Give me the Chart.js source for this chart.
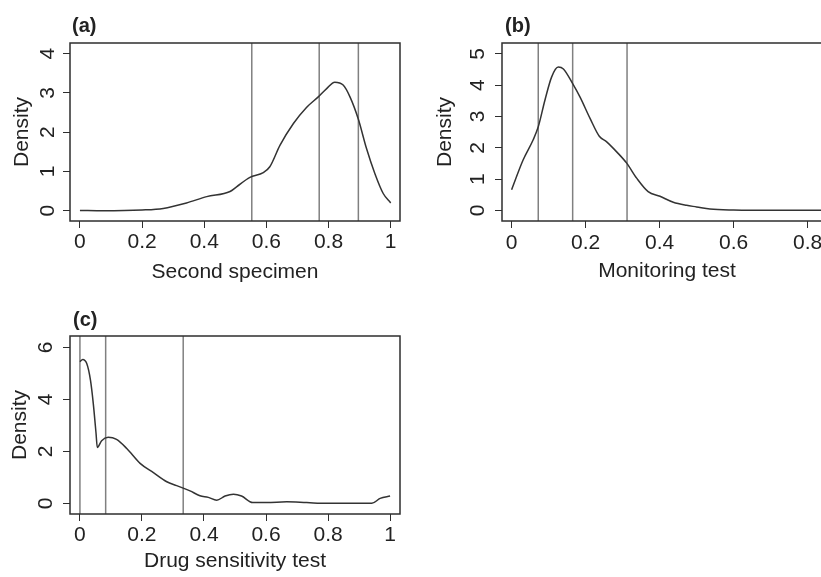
<!DOCTYPE html>
<html>
<head>
<meta charset="utf-8">
<script src="https://cdn.jsdelivr.net/npm/chart.js@4/dist/chart.umd.min.js"></script>
<style>
  html, body { margin: 0; padding: 0; background: #fff; }
  body { width: 821px; height: 577px; position: relative; overflow: hidden; }
  canvas { position: absolute; }
  #chartA { left: 0; top: 0; }
  #chartB { left: 432px; top: 0; }
  #chartC { left: 0; top: 293px; }
</style>
</head>
<body>
<canvas id="chartA" width="410" height="290"></canvas>
<canvas id="chartB" width="410" height="290"></canvas>
<canvas id="chartC" width="410" height="290"></canvas>
<script>
// (a) Second specimen
const aX = [0, 0.075, 0.2, 0.268, 0.343, 0.408, 0.483, 0.504, 0.547, 0.59, 0.611, 0.644, 0.687, 0.729, 0.767, 0.794, 0.82, 0.847, 0.869, 0.896, 0.922, 0.949, 0.976, 1.0];
const aDensity = [0.01, 0.0, 0.02, 0.06, 0.20, 0.36, 0.49, 0.61, 0.85, 0.97, 1.12, 1.67, 2.22, 2.63, 2.9, 3.11, 3.27, 3.20, 2.9, 2.33, 1.59, 0.95, 0.44, 0.20];
const aCutoffs = [0.553, 0.770, 0.896];
const aYTicks = [0, 1, 2, 3, 4];

// (b) Monitoring test
const bX = [0, 0.031, 0.058, 0.072, 0.09, 0.108, 0.126, 0.140, 0.165, 0.185, 0.212, 0.237, 0.257, 0.284, 0.311, 0.338, 0.369, 0.401, 0.437, 0.473, 0.5, 0.536, 0.6, 0.72, 0.84, 0.87];
const bDensity = [0.66, 1.61, 2.25, 2.67, 3.52, 4.26, 4.58, 4.52, 4.05, 3.62, 2.94, 2.37, 2.19, 1.87, 1.51, 1.03, 0.60, 0.45, 0.26, 0.16, 0.11, 0.04, 0.01, 0.0, 0.0, 0.0];
const bCutoffs = [0.072, 0.165, 0.312];
const bYTicks = [0, 1, 2, 3, 4, 5];

// (c) Drug sensitivity test
const cX = [0, 0.009, 0.022, 0.034, 0.043, 0.052, 0.056, 0.07, 0.091, 0.118, 0.151, 0.194, 0.237, 0.28, 0.312, 0.355, 0.387, 0.414, 0.441, 0.468, 0.495, 0.521, 0.557, 0.602, 0.667, 0.731, 0.796, 0.941, 0.968, 1.0];
const cDensity = [5.45, 5.54, 5.38, 4.74, 3.85, 2.69, 2.15, 2.41, 2.54, 2.46, 2.11, 1.54, 1.18, 0.83, 0.68, 0.48, 0.29, 0.23, 0.12, 0.28, 0.35, 0.28, 0.03, 0.03, 0.06, 0.03, 0.0, 0.0, 0.19, 0.28];
const cCutoffs = [0.0, 0.083, 0.333];
const cYTicks = [0, 2, 4, 6];

const xTicksFull = [0, 0.2, 0.4, 0.6, 0.8, 1];
const xTicksB = [0, 0.2, 0.4, 0.6, 0.8];

const FONT = "'Liberation Sans', Arial, Helvetica, sans-serif";
const INK = '#2e2e2e';

// box round the plot area plus the (a)/(b)/(c) tag
const framePlugin = {
  id: 'frame',
  afterDatasetsDraw(chart, args, opts) {
    const { ctx, chartArea: ca } = chart;
    ctx.save();
    ctx.strokeStyle = INK;
    ctx.lineWidth = 1.5;
    ctx.strokeRect(ca.left, ca.top, ca.right - ca.left, ca.bottom - ca.top);
    ctx.fillStyle = '#222';
    ctx.font = 'bold 20px ' + FONT;
    ctx.textBaseline = 'middle';
    ctx.textAlign = 'left';
    ctx.fillText(opts.tag, ca.left + opts.dx, opts.y);
    ctx.restore();
  }
};

function makePanel(id, p) {
  const datasets = [{
    data: p.xs.map((x, i) => ({ x: x, y: p.ys[i] })),
    borderColor: '#333',
    borderWidth: 1.5,
    pointRadius: 0,
    cubicInterpolationMode: 'monotone',
    fill: false
  }];
  p.cutoffs.forEach(c => {
    datasets.push({
      data: [{ x: c, y: p.yMin - 5 }, { x: c, y: p.yMax + 5 }],
      borderColor: '#808080',
      borderWidth: 1.5,
      pointRadius: 0,
      tension: 0,
      fill: false
    });
  });

  new Chart(document.getElementById(id), {
    type: 'line',
    data: { datasets: datasets },
    plugins: [framePlugin],
    options: {
      responsive: false,
      animation: false,
      events: [],
      layout: { padding: { top: 43, right: 10, left: 0, bottom: 0 } },
      plugins: {
        legend: { display: false },
        tooltip: { enabled: false },
        frame: { tag: p.tag, dx: p.tagDx, y: p.tagY }
      },
      scales: {
        x: {
          type: 'linear',
          min: p.xMin,
          max: p.xMax,
          afterFit: s => { s.height = 69; },
          afterBuildTicks: s => { s.ticks = p.xTicks.map(v => ({ value: v })); },
          border: { display: false },
          grid: { drawOnChartArea: false, drawTicks: true, tickLength: 7, color: INK, lineWidth: 1 },
          ticks: {
            autoSkip: false,
            maxRotation: 0,
            padding: p.xTickPad,
            color: '#222',
            font: { family: FONT, size: 21 },
            callback: v => String(v)
          },
          title: {
            display: true,
            text: p.xTitle,
            color: '#222',
            font: { family: FONT, size: 21 },
            padding: { top: 0, bottom: p.xTitlePad }
          }
        },
        y: {
          type: 'linear',
          min: p.yMin,
          max: p.yMax,
          afterFit: s => { s.width = 70; },
          afterBuildTicks: s => { s.ticks = p.yTicks.map(v => ({ value: v })); },
          border: { display: false },
          grid: { drawOnChartArea: false, drawTicks: true, tickLength: 7, color: INK, lineWidth: 1 },
          ticks: {
            autoSkip: false,
            minRotation: 90,
            maxRotation: 90,
            crossAlign: 'center',
            padding: p.yTickPad,
            color: '#222',
            font: { family: FONT, size: 21 },
            callback: v => String(v)
          },
          title: {
            display: true,
            text: 'Density',
            color: '#222',
            font: { family: FONT, size: 21 },
            padding: { top: p.yTitlePad, bottom: 0 }
          }
        }
      }
    }
  });
}

makePanel('chartA', {
  tag: '(a)', tagDx: 2, tagY: 26,
  xs: aX, ys: aDensity, cutoffs: aCutoffs,
  xMin: -0.032, xMax: 1.03, yMin: -0.26, yMax: 4.27,
  xTicks: xTicksFull, yTicks: aYTicks,
  xTitle: 'Second specimen', xTickPad: 1.5, xTitlePad: 5,
  yTickPad: 9, yTitlePad: 9.5
});

makePanel('chartB', {
  tag: '(b)', tagDx: 3, tagY: 26,
  xs: bX, ys: bDensity, cutoffs: bCutoffs,
  xMin: -0.026, xMax: 0.866, yMin: -0.34, yMax: 5.35,
  xTicks: xTicksB, yTicks: bYTicks,
  xTitle: 'Monitoring test', xTickPad: 2.5, xTitlePad: 6,
  yTickPad: 11, yTitlePad: 1
});

makePanel('chartC', {
  tag: '(c)', tagDx: 3, tagY: 27,
  xs: cX, ys: cDensity, cutoffs: cCutoffs,
  xMin: -0.032, xMax: 1.032, yMin: -0.41, yMax: 6.44,
  xTicks: xTicksFull, yTicks: cYTicks,
  xTitle: 'Drug sensitivity test', xTickPad: 2, xTitlePad: 9,
  yTickPad: 11, yTitlePad: 7.5
});
</script>
</body>
</html>
